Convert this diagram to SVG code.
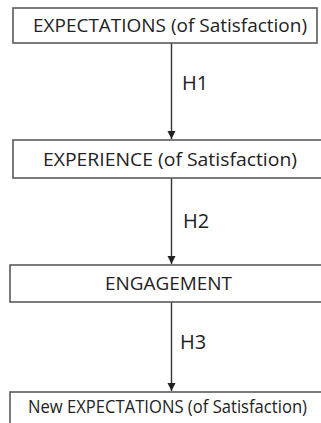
<svg xmlns="http://www.w3.org/2000/svg" width="321" height="423" viewBox="0 0 321 423">
<defs>
<style>
.box{fill:#fff;stroke:#5a5a5a;stroke-width:1.6}
.lbl{font-family:"Open Sans",Lato,"Liberation Sans",sans-serif;font-size:19px;fill:#222;text-anchor:middle}
.h{font-family:"Open Sans",Lato,"Liberation Sans",sans-serif;font-size:20px;fill:#222}
.edge{stroke:#333;stroke-width:1.4;fill:none;marker-end:url(#ah)}
</style>
<marker id="ah" viewBox="0 0 10 10" refX="10" refY="5" markerUnits="userSpaceOnUse" markerWidth="8" markerHeight="9" orient="auto">
<path d="M0,0 L10,5 L0,10 z" fill="#222"/>
</marker>
</defs>
<rect width="321" height="423" fill="#fff"/>
<g id="connectors">
<line class="edge" x1="171.5" y1="43" x2="171.5" y2="139"/>
<text class="h" x="182" y="90">H1</text>
<line class="edge" x1="171.5" y1="178" x2="171.5" y2="264"/>
<text class="h" x="183" y="228">H2</text>
<line class="edge" x1="171.5" y1="302" x2="171.5" y2="391"/>
<text class="h" x="180" y="349">H3</text>
</g>
<g id="n1">
<rect class="box" x="13" y="8" width="304" height="35"/>
<text class="lbl" x="170" y="32" textLength="274" lengthAdjust="spacingAndGlyphs">EXPECTATIONS (of Satisfaction)</text>
</g>
<g id="n2">
<rect class="box" x="13" y="140" width="320" height="38"/>
<text class="lbl" x="170" y="166" textLength="254" lengthAdjust="spacingAndGlyphs">EXPERIENCE (of Satisfaction)</text>
</g>
<g id="n3">
<rect class="box" x="10" y="265" width="320" height="37"/>
<text class="lbl" x="168.5" y="290" textLength="127" lengthAdjust="spacingAndGlyphs">ENGAGEMENT</text>
</g>
<g id="n4">
<rect class="box" x="10" y="392" width="320" height="40"/>
<text class="lbl" x="167.5" y="413" font-size="18" textLength="279" lengthAdjust="spacingAndGlyphs">New EXPECTATIONS (of Satisfaction)</text>
</g>
</svg>
